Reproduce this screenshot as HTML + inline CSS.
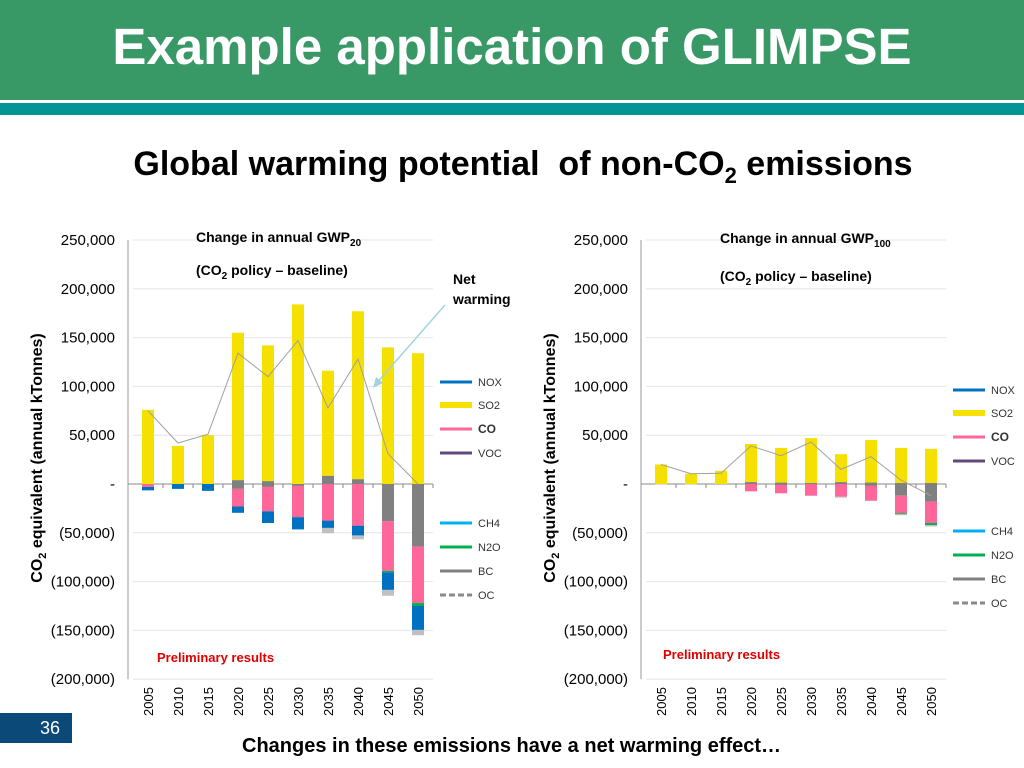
<!DOCTYPE html>
<html><head><meta charset="utf-8"><style>
body{margin:0;width:1024px;height:768px;overflow:hidden;background:#fff;font-family:"Liberation Sans",Arial,sans-serif;position:relative}
.abs{position:absolute}
</style></head><body>
<div class="abs" style="left:0;top:0;width:1024px;height:100px;background:#399966"></div>
<div class="abs" style="left:0;top:103px;width:1024px;height:12px;background:#039494"></div>
<div class="abs" style="left:0;top:17px;width:1024px;text-align:center;color:#fff;font-weight:bold;font-size:51px">Example application of GLIMPSE</div>
<div class="abs" style="left:0;top:145px;width:1046px;text-align:center;font-weight:bold;font-size:34px">Global warming potential&nbsp; of non-CO<sub style="font-size:22px">2</sub> emissions</div>
<div class="abs" style="left:0;top:713px;width:72px;height:30px;background:#0b4a78;color:#fff;font-size:18px;text-align:right;box-sizing:border-box;padding:5px 12px 0 0">36</div>
<div class="abs" style="left:242px;top:735px;font-weight:bold;font-size:20px">Changes in these emissions have a net warming effect…</div>
<svg class="abs" style="left:0;top:0" width="1024" height="768" id="svg"></svg>
<script>
const years=["2005","2010","2015","2020","2025","2030","2035","2040","2045","2050"];
const ticks=[250000,200000,150000,100000,50000,0,-50000,-100000,-150000,-200000];
const tickLabels=["250,000","200,000","150,000","100,000","50,000","-","(50,000)","(100,000)","(150,000)","(200,000)"];
// GWP20 (thousand tonnes)
const l_bcPos=[0,0,0,4,3,0,8.5,5,0,0];
const l_so2=[76,39,50,151,139,184,107.5,172,140,134];
const l_bcNeg=[0,0,0,5,3,2,0,0,38,64];
const l_co=[3,0,0,18,25,32,37.5,42.7,51,58];
const l_n2o=[0,0,0,0,0,0,0,0,1.5,3];
const l_nox=[3.5,5,7,6.5,12,12.5,7.5,10,18,24.5];
const l_oc=[0,0,0,0,0,0,5.5,4,6,5.5];
const l_net=[75,42,51,134,110,147,78,128,31,0];
// GWP100
const r_bcPos=[0,0,0,2,1.5,1,2,1.5,1,1];
const r_so2=[20,10.5,13.5,39,35.5,46,28.5,43.5,36,35];
const r_bcNeg=[0,0,0,0,1,0,0,2,12,18];
const r_co=[0,0,0,7.5,8.5,12,13,15,18,22];
const r_n2o=[0,0,0,0,0,0,0,0,1,2];
const r_nox=[0,0,0,0,0,0,0,0,0,0];
const r_oc=[0.5,0.5,0,0,0,0,1,0.5,1,1.5];
const r_net=[20,10.5,11,39,29,43,15,28,4,-12];
const NS="http://www.w3.org/2000/svg";
const svg=document.getElementById('svg');
function mk(t,a,parent){const e=document.createElementNS(NS,t);for(const k in a)e.setAttribute(k,a[k]);(parent||svg).appendChild(e);return e;}
const C={so2:"#f5e000",bc:"#808080",co:"#ff6699",n2o:"#00b050",nox:"#0070c0",oc:"#c0c0c0",ch4:"#00b0f0",voc:"#604a7b"};
function chart(ox,d,name,legendX,legendY0){
  const Y=v=>484-v*0.976; // v in thousands
  const xs=i=>ox+i*30;
  const g=mk('g',{});
  
  
  ticks.forEach((t,i)=>{
    const yy=Y(t/1000);
    const gl=mk('line',{x1:ox-15,x2:ox+285,y1:yy,y2:yy,stroke:"#e6e6e6","stroke-width":1},g);
    
    
    const tx=mk('text',{x:ox-33,y:yy+5,"text-anchor":"end","font-size":"15",fill:"#000"},g);
    tx.textContent=tickLabels[i];
    
    
  });
  const ax=mk('line',{x1:ox-20,x2:ox-20,y1:Y(250),y2:Y(-200),stroke:"#999","stroke-width":1},g);
  
  
  const xa=mk('line',{x1:ox-20,x2:ox+285,y1:484,y2:484,stroke:"#888","stroke-width":1},g);
  
  
  years.forEach((yr,i)=>{
    const cx=xs(i);
    mk('line',{x1:cx+15,x2:cx+15,y1:484,y2:488,stroke:"#888"},g);
    let top=0;
    [["bc",d.bcPos[i]],["so2",d.so2[i]]].forEach(([k,v])=>{if(v>0){const r=mk('rect',{x:cx-6,y:Y(top+v),width:12,height:v*0.976,fill:C[k]},g);top+=v;}});
    let bot=0;
    [["bc",d.bcNeg[i]],["co",d.co[i]],["n2o",d.n2o[i]],["nox",d.nox[i]],["oc",d.oc[i]]].forEach(([k,v])=>{if(v>0){const r=mk('rect',{x:cx-6,y:Y(bot),width:12,height:v*0.976,fill:C[k]},g);bot-=v;}});
    const t=mk('text',{transform:`translate(${cx+5},716) rotate(-90)`,"font-size":"13"},g);
    t.textContent=yr;
    
    
  });
  const pl=mk('polyline',{points:d.net.map((v,i)=>xs(i)+","+Y(v)).join(" "),fill:"none",stroke:"#a0a0a0","stroke-width":1},g);
  
  
  const leg=[["NOX",C.nox,0],["SO2",C.so2,23],["CO",C.co,47],["VOC",C.voc,71],["CH4",C.ch4,141],["N2O",C.n2o,165],["BC",C.bc,189],["OC",C.oc,213]];
  leg.forEach(([n,c,dy])=>{
    const yy=legendY0+dy;
    const l=mk('line',{x1:legendX,x2:legendX+32,y1:yy,y2:yy,stroke:n=="OC"?"#888":c,"stroke-width":n=="SO2"?6:3,"stroke-dasharray":n=="OC"?"6,3":"none"},g);
    
    
    const t=mk('text',{x:legendX+38,y:yy+4,"font-size":n=="CO"?"12":"11","font-weight":n=="CO"?"bold":"normal",fill:"#333"},g);
    t.textContent=n;
    
    
  });
  const yt=mk('text',{transform:`translate(${ox-106},458) rotate(-90)`,"text-anchor":"middle","font-size":"16","font-weight":"bold"},g);
  yt.innerHTML='CO<tspan font-size="11" dy="4">2</tspan><tspan dy="-4"> equivalent (annual kTonnes)</tspan>';
  
  
}
chart(148,{bcPos:l_bcPos,so2:l_so2,bcNeg:l_bcNeg,co:l_co,n2o:l_n2o,nox:l_nox,oc:l_oc,net:l_net},'chart-gwp20',440,382);
chart(661,{bcPos:r_bcPos,so2:r_so2,bcNeg:r_bcNeg,co:r_co,n2o:r_n2o,nox:r_nox,oc:r_oc,net:r_net},'chart-gwp100',953,390);
function txt(x,y,html,size,name,fill){const t=mk('text',{x:x,y:y,"font-size":size,"font-weight":"bold",fill:fill||"#000"});t.innerHTML=html;}
txt(196,242,'Change in annual GWP<tspan font-size="10" dy="4">20</tspan>',14,'chart-title-left');
txt(196,275,'(CO<tspan font-size="10" dy="4">2</tspan><tspan dy="-4"> policy – baseline)</tspan>',14,'chart-subtitle-left');
txt(720,243,'Change in annual GWP<tspan font-size="10" dy="4">100</tspan>',14,'chart-title-right');
txt(720,281,'(CO<tspan font-size="10" dy="4">2</tspan><tspan dy="-4"> policy – baseline)</tspan>',14,'chart-subtitle-right');
txt(453,284,'Net',14,'net-warming-label');
txt(453,304,'warming',14,'net-warming-label-2');
txt(157,662,'Preliminary results',13,'preliminary-left','#e00000');
txt(663,659,'Preliminary results',13,'preliminary-right','#e00000');
const ar=mk('line',{x1:445,y1:305,x2:375,y2:385,stroke:"#9fd4e0","stroke-width":1.5});


const ah=mk('polygon',{points:"373,388 376,377 383,383",fill:"#9fd4e0"});


</script>
</body></html>
